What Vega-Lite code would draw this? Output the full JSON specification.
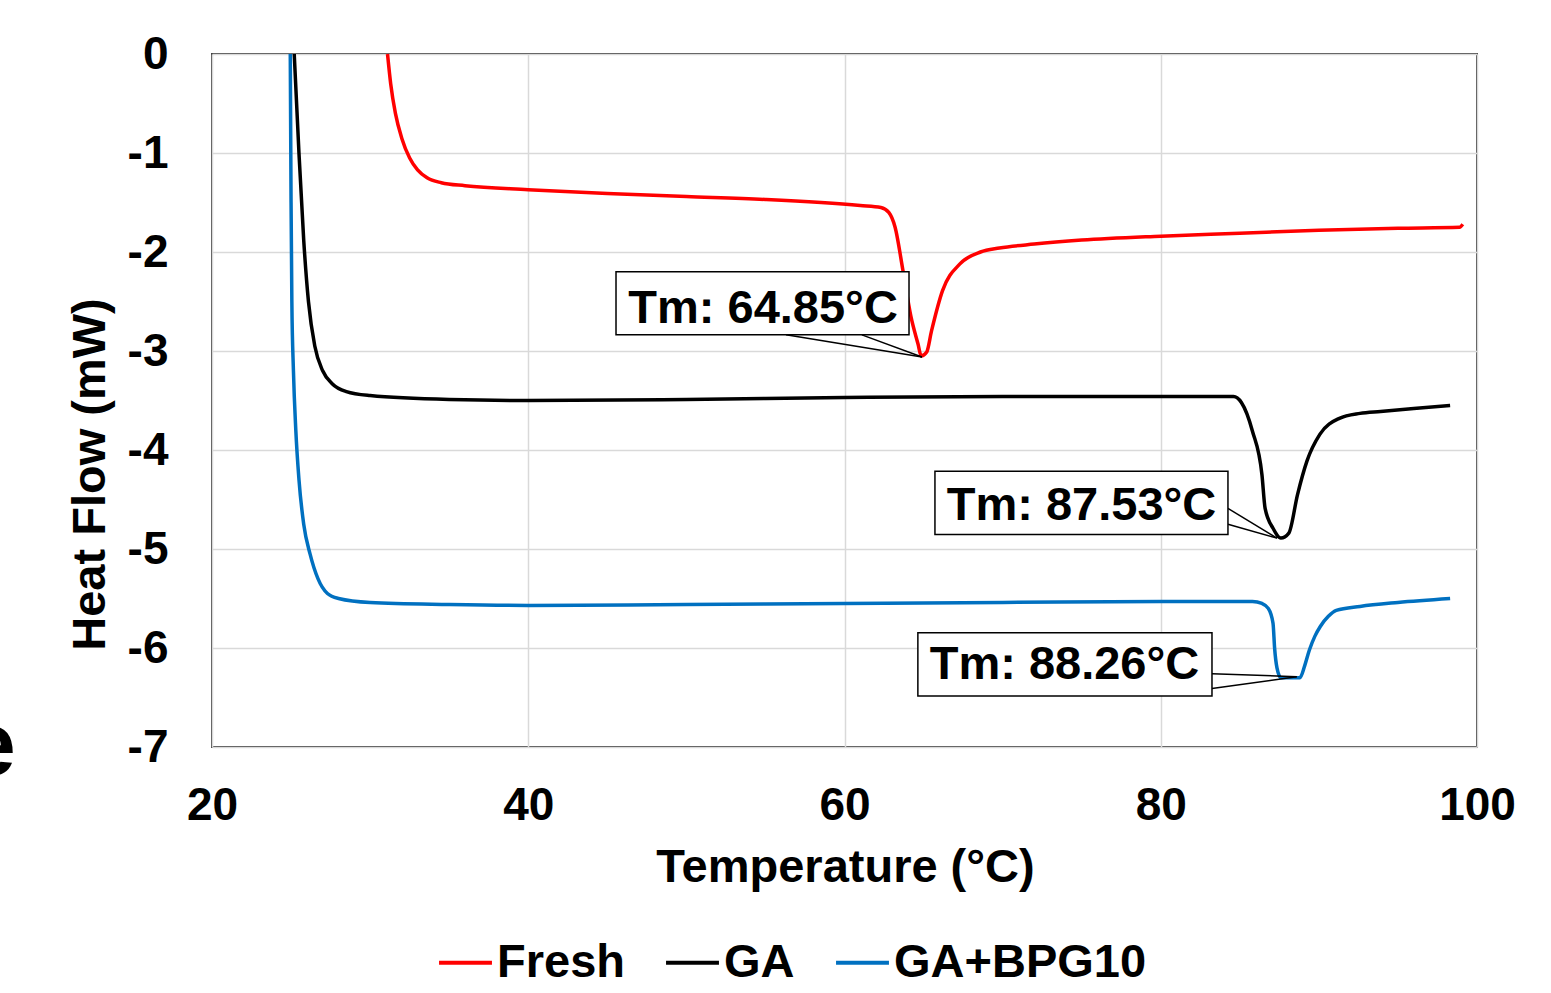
{
  "$schema": "https://vega.github.io/schema/vega-lite/v6.json",
  "width": 1265,
  "height": 693,
  "autosize": {"type": "none"},
  "padding": {"left": 212, "top": 54, "right": 74, "bottom": 246},
  "background": "white",
  "config": {
    "view": {"stroke": "#404040", "strokeWidth": 2},
    "font": "Liberation Sans",
    "axis": {
      "labelFont": "Liberation Sans",
      "labelFontWeight": "bold",
      "labelFontSize": 46,
      "labelColor": "#000000",
      "titleFont": "Liberation Sans",
      "titleFontWeight": "bold",
      "titleFontSize": 47,
      "titleColor": "#000000",
      "gridColor": "#d9d9d9",
      "gridWidth": 1.5,
      "domain": false,
      "ticks": false,
      "tickSize": 0,
      "labelFlush": false
    },
    "legend": {
      "labelFont": "Liberation Sans",
      "labelFontWeight": "bold",
      "labelFontSize": 47,
      "labelColor": "#000000",
      "labelLimit": 500
    }
  },
  "datasets": {
    "curves": [
      {"series": "Fresh", "T": 31.1, "HF": 0},
      {"series": "Fresh", "T": 31.3, "HF": -0.3},
      {"series": "Fresh", "T": 31.6, "HF": -0.6},
      {"series": "Fresh", "T": 32.0, "HF": -0.85},
      {"series": "Fresh", "T": 32.5, "HF": -1.05},
      {"series": "Fresh", "T": 33.0, "HF": -1.17},
      {"series": "Fresh", "T": 33.6, "HF": -1.25},
      {"series": "Fresh", "T": 34.5, "HF": -1.3},
      {"series": "Fresh", "T": 36, "HF": -1.33},
      {"series": "Fresh", "T": 40, "HF": -1.37},
      {"series": "Fresh", "T": 45, "HF": -1.41},
      {"series": "Fresh", "T": 50, "HF": -1.44},
      {"series": "Fresh", "T": 55, "HF": -1.47},
      {"series": "Fresh", "T": 61, "HF": -1.53},
      {"series": "Fresh", "T": 62.3, "HF": -1.55},
      {"series": "Fresh", "T": 62.8, "HF": -1.6},
      {"series": "Fresh", "T": 63.2, "HF": -1.75},
      {"series": "Fresh", "T": 63.7, "HF": -2.19},
      {"series": "Fresh", "T": 64.2, "HF": -2.65},
      {"series": "Fresh", "T": 64.65, "HF": -2.93},
      {"series": "Fresh", "T": 64.85, "HF": -3.05},
      {"series": "Fresh", "T": 65.2, "HF": -3.01},
      {"series": "Fresh", "T": 65.5, "HF": -2.8},
      {"series": "Fresh", "T": 66.2, "HF": -2.39},
      {"series": "Fresh", "T": 67.3, "HF": -2.12},
      {"series": "Fresh", "T": 68.6, "HF": -2.0},
      {"series": "Fresh", "T": 69.8, "HF": -1.96},
      {"series": "Fresh", "T": 72, "HF": -1.92},
      {"series": "Fresh", "T": 75, "HF": -1.88},
      {"series": "Fresh", "T": 80, "HF": -1.84},
      {"series": "Fresh", "T": 85, "HF": -1.81},
      {"series": "Fresh", "T": 90, "HF": -1.78},
      {"series": "Fresh", "T": 95, "HF": -1.76},
      {"series": "Fresh", "T": 98.9, "HF": -1.75},
      {"series": "Fresh", "T": 99.1, "HF": -1.72},
      {"series": "GA", "T": 25.2, "HF": 0},
      {"series": "GA", "T": 25.5, "HF": -1.0},
      {"series": "GA", "T": 25.8, "HF": -1.88},
      {"series": "GA", "T": 26.1, "HF": -2.5},
      {"series": "GA", "T": 26.5, "HF": -2.95},
      {"series": "GA", "T": 27.0, "HF": -3.2},
      {"series": "GA", "T": 27.6, "HF": -3.33},
      {"series": "GA", "T": 28.5, "HF": -3.41},
      {"series": "GA", "T": 30, "HF": -3.45},
      {"series": "GA", "T": 35, "HF": -3.49},
      {"series": "GA", "T": 40, "HF": -3.5},
      {"series": "GA", "T": 50, "HF": -3.49},
      {"series": "GA", "T": 60, "HF": -3.47},
      {"series": "GA", "T": 70, "HF": -3.46},
      {"series": "GA", "T": 80, "HF": -3.46},
      {"series": "GA", "T": 84.6, "HF": -3.46},
      {"series": "GA", "T": 85.1, "HF": -3.52},
      {"series": "GA", "T": 85.8, "HF": -3.81},
      {"series": "GA", "T": 86.4, "HF": -4.25},
      {"series": "GA", "T": 86.6, "HF": -4.59},
      {"series": "GA", "T": 87.1, "HF": -4.79},
      {"series": "GA", "T": 87.6, "HF": -4.89},
      {"series": "GA", "T": 88.1, "HF": -4.84},
      {"series": "GA", "T": 88.65, "HF": -4.45},
      {"series": "GA", "T": 89.25, "HF": -4.11},
      {"series": "GA", "T": 90.07, "HF": -3.84},
      {"series": "GA", "T": 91.3, "HF": -3.68},
      {"series": "GA", "T": 92.6, "HF": -3.63},
      {"series": "GA", "T": 93.9, "HF": -3.61},
      {"series": "GA", "T": 96, "HF": -3.58},
      {"series": "GA", "T": 98.3, "HF": -3.55},
      {"series": "GA+BPG10", "T": 24.95, "HF": 0},
      {"series": "GA+BPG10", "T": 25.0, "HF": -1.5},
      {"series": "GA+BPG10", "T": 25.05, "HF": -2.5},
      {"series": "GA+BPG10", "T": 25.15, "HF": -3.2},
      {"series": "GA+BPG10", "T": 25.3, "HF": -3.8},
      {"series": "GA+BPG10", "T": 25.5, "HF": -4.3},
      {"series": "GA+BPG10", "T": 25.8, "HF": -4.75},
      {"series": "GA+BPG10", "T": 26.2, "HF": -5.05},
      {"series": "GA+BPG10", "T": 26.7, "HF": -5.3},
      {"series": "GA+BPG10", "T": 27.3, "HF": -5.45},
      {"series": "GA+BPG10", "T": 28, "HF": -5.5},
      {"series": "GA+BPG10", "T": 30, "HF": -5.54},
      {"series": "GA+BPG10", "T": 35, "HF": -5.56},
      {"series": "GA+BPG10", "T": 40, "HF": -5.57},
      {"series": "GA+BPG10", "T": 50, "HF": -5.56},
      {"series": "GA+BPG10", "T": 60, "HF": -5.55},
      {"series": "GA+BPG10", "T": 70, "HF": -5.54},
      {"series": "GA+BPG10", "T": 80, "HF": -5.53},
      {"series": "GA+BPG10", "T": 85.8, "HF": -5.53},
      {"series": "GA+BPG10", "T": 86.4, "HF": -5.55},
      {"series": "GA+BPG10", "T": 86.8, "HF": -5.6},
      {"series": "GA+BPG10", "T": 87.1, "HF": -5.75},
      {"series": "GA+BPG10", "T": 87.2, "HF": -6.0},
      {"series": "GA+BPG10", "T": 87.35, "HF": -6.2},
      {"series": "GA+BPG10", "T": 87.6, "HF": -6.3},
      {"series": "GA+BPG10", "T": 88.8, "HF": -6.3},
      {"series": "GA+BPG10", "T": 89.1, "HF": -6.18},
      {"series": "GA+BPG10", "T": 89.4, "HF": -6.02},
      {"series": "GA+BPG10", "T": 89.75, "HF": -5.88},
      {"series": "GA+BPG10", "T": 90.1, "HF": -5.78},
      {"series": "GA+BPG10", "T": 90.6, "HF": -5.68},
      {"series": "GA+BPG10", "T": 91.1, "HF": -5.62},
      {"series": "GA+BPG10", "T": 92.6, "HF": -5.58},
      {"series": "GA+BPG10", "T": 95, "HF": -5.54},
      {"series": "GA+BPG10", "T": 98.3, "HF": -5.5}
    ],
    "pointers": [
      {"sx": 56.3, "sy": -2.837, "tx": 64.9, "ty": -3.06},
      {"sx": 61.1, "sy": -2.837, "tx": 64.9, "ty": -3.06},
      {"sx": 84.25, "sy": -4.59, "tx": 87.35, "ty": -4.89},
      {"sx": 84.25, "sy": -4.75, "tx": 87.35, "ty": -4.89},
      {"sx": 83.24, "sy": -6.26, "tx": 88.6, "ty": -6.29},
      {"sx": 83.24, "sy": -6.41, "tx": 88.6, "ty": -6.29}
    ],
    "notes": [
      {"label": "Tm: 64.85°C", "x1": 45.55, "x2": 64.08, "y1": -2.199, "y2": -2.837, "cx": 54.85, "cy": -2.715},
      {"label": "Tm: 87.53°C", "x1": 65.72, "x2": 84.25, "y1": -4.215, "y2": -4.853, "cx": 74.99, "cy": -4.71},
      {"label": "Tm: 88.26°C", "x1": 64.64, "x2": 83.24, "y1": -5.846, "y2": -6.484, "cx": 73.91, "cy": -6.31}
    ],
    "stray": [
      {"label": "e", "x": 7.6, "y": -7.285}
    ]
  },
  "layer": [
    {
      "data": {"name": "curves"},
      "mark": {"type": "line", "strokeWidth": 3.5, "interpolate": "monotone"},
      "encoding": {
        "x": {
          "field": "T", "type": "quantitative",
          "scale": {"domain": [20, 100], "nice": false, "zero": false},
          "axis": {"values": [20, 40, 60, 80, 100], "title": "Temperature (°C)", "labelPadding": 36, "titleX": 633, "titleY": 120, "titleBaseline": "middle", "titleAlign": "center", "labelExpr": "'' + datum.value"}
        },
        "y": {
          "field": "HF", "type": "quantitative",
          "scale": {"domain": [-7, 0], "nice": false, "zero": false},
          "axis": {"values": [0, -1, -2, -3, -4, -5, -6, -7], "title": "Heat Flow (mW)", "labelPadding": 44, "titleX": -122, "titleY": 420, "titleAngle": -90, "titleBaseline": "middle", "titleAlign": "center", "labelExpr": "'' + datum.value"}
        },
        "color": {
          "field": "series", "type": "nominal",
          "scale": {"domain": ["Fresh", "GA", "GA+BPG10"], "range": ["#ff0000", "#000000", "#0070c0"]},
          "legend": {
            "title": null,
            "orient": "none",
            "direction": "horizontal",
            "legendX": 225,
            "legendY": 880,
            "symbolType": "stroke",
            "symbolStrokeWidth": 4,
            "symbolSize": 2800,
            "labelOffset": 3,
            "columnPadding": 33
          }
        },
        "detail": {"field": "series"}
      }
    },
    {
      "data": {"name": "pointers"},
      "mark": {"type": "rule", "color": "#000000", "strokeWidth": 1.5},
      "encoding": {
        "x": {"field": "sx", "type": "quantitative"},
        "y": {"field": "sy", "type": "quantitative"},
        "x2": {"field": "tx"},
        "y2": {"field": "ty"}
      }
    },
    {
      "data": {"name": "notes"},
      "mark": {"type": "rect", "fill": "#ffffff", "stroke": "#000000", "strokeWidth": 1.5},
      "encoding": {
        "x": {"field": "x1", "type": "quantitative"},
        "x2": {"field": "x2"},
        "y": {"field": "y1", "type": "quantitative"},
        "y2": {"field": "y2"}
      }
    },
    {
      "data": {"name": "notes"},
      "mark": {"type": "text", "font": "Liberation Sans", "fontWeight": "bold", "fontSize": 47, "align": "center", "baseline": "alphabetic", "color": "#000000"},
      "encoding": {
        "x": {"field": "cx", "type": "quantitative"},
        "y": {"field": "cy", "type": "quantitative"},
        "text": {"field": "label"}
      }
    },
    {
      "data": {"name": "stray"},
      "mark": {"type": "text", "font": "Liberation Sans", "fontWeight": "bold", "fontSize": 90, "align": "right", "baseline": "alphabetic", "color": "#000000"},
      "encoding": {
        "x": {"field": "x", "type": "quantitative"},
        "y": {"field": "y", "type": "quantitative"},
        "text": {"field": "label"}
      }
    }
  ]
}
